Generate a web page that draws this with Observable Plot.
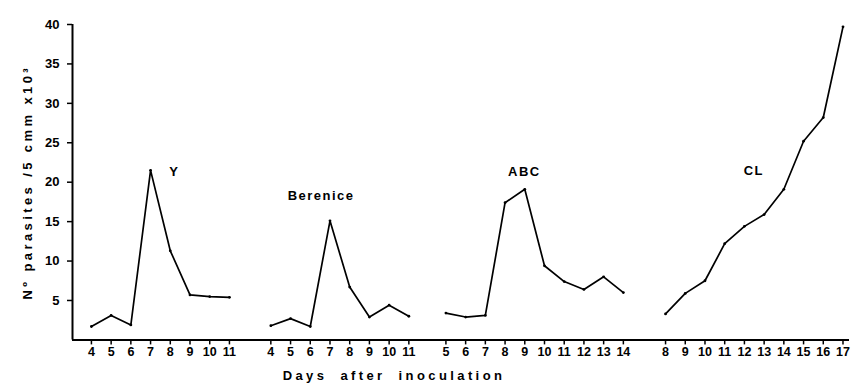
<!DOCTYPE html>
<html>
<head>
<meta charset="utf-8">
<script src="https://cdn.jsdelivr.net/npm/d3@7"></script>
<script src="https://cdn.jsdelivr.net/npm/@observablehq/plot@0.6"></script>
<style>
  html, body { margin: 0; padding: 0; background: #fff; }
  svg { display: block; }
</style>
</head>
<body>
<div id="chart"></div>
<script>
// ---- data ----
const strains = ["Y", "Berenice", "ABC", "CL"];

const yDays = [4, 5, 6, 7, 8, 9, 10, 11];
const yValues = [1.7, 3.1, 1.9, 21.5, 11.3, 5.7, 5.5, 5.4];

const berDays = [4, 5, 6, 7, 8, 9, 10, 11];
const berValues = [1.8, 2.7, 1.7, 15.1, 6.7, 2.9, 4.4, 3.0];

const abcDays = [5, 6, 7, 8, 9, 10, 11, 12, 13, 14];
const abcValues = [3.4, 2.9, 3.1, 17.4, 19.1, 9.4, 7.4, 6.4, 8.0, 6.0];

const clDays = [8, 9, 10, 11, 12, 13, 14, 15, 16, 17];
const clValues = [3.3, 5.9, 7.5, 12.2, 14.4, 15.9, 19.1, 25.2, 28.2, 39.7];

const yTicks = [5, 10, 15, 20, 25, 30, 35, 40];

const yLabel = "N\u00ba parasites /5 cmm x10\u00b3";
const xLabel = "Days after inoculation";

// ---- layout: horizontal offset of each panel on the shared day axis ----
const panelOffset = { "Y": -4, "Berenice": 5.10, "ABC": 12.98, "CL": 21.12 };
// label anchors, in each panel's day / value units
const labelDay = { "Y": 8.2, "Berenice": 6.55, "ABC": 8.98, "CL": 12.48 };
const labelValue = { "Y": 21.3, "Berenice": 18.3, "ABC": 21.3, "CL": 21.5 };

const series = { "Y": [yDays, yValues], "Berenice": [berDays, berValues], "ABC": [abcDays, abcValues], "CL": [clDays, clValues] };

const rows = [];
const ticks = [];
for (const s of strains) {
  const [days, vals] = series[s];
  days.forEach((d, i) => {
    rows.push({ strain: s, day: d, value: vals[i], u: panelOffset[s] + d });
    ticks.push({ u: panelOffset[s] + d, day: d });
  });
}
const tickLabel = new Map(ticks.map(t => [t.u, String(t.day)]));
const labels = strains.map(s => ({ strain: s, u: panelOffset[s] + labelDay[s], value: labelValue[s] }));

const xMin = -0.96, xMax = 38.45;
const font = "Liberation Sans, Arial, sans-serif";

const chart = Plot.plot({
  width: 858,
  height: 389,
  marginLeft: 72,
  marginRight: 9,
  marginTop: 24,
  marginBottom: 49.6,
  style: { fontFamily: font, fontWeight: "bold", fontSize: "13px", color: "#000", background: "#fff" },
  x: { domain: [xMin, xMax], axis: null },
  y: { domain: [0, 40], axis: null },
  marks: [
    Plot.ruleY([0], { stroke: "#000", strokeWidth: 2 }),
    Plot.ruleX([xMin], { y1: 0, y2: 40, stroke: "#000", strokeWidth: 2 }),
    Plot.axisY(yTicks, { tickSize: 5, tickPadding: 8, tickFormat: d => String(d), stroke: "#000", strokeWidth: 1.5, fontSize: 13, fontWeight: "bold", label: null }),
    Plot.axisX(ticks.map(t => t.u), { tickSize: 5, tickPadding: 2, tickFormat: u => tickLabel.get(u), stroke: "#000", strokeWidth: 1.5, fontSize: 12.5, fontWeight: "bold", label: null }),
    Plot.line(rows, { x: "u", y: "value", z: "strain", stroke: "#000", strokeWidth: 1.7 }),
    Plot.dot(rows, { x: "u", y: "value", r: 1.4, fill: "#000", stroke: "none" }),
    Plot.text(labels, { x: "u", y: "value", text: "strain", fontSize: 13, fontWeight: "bold", fill: "#000" }),
    Plot.text([yLabel], { frameAnchor: "left", textAnchor: "middle", lineAnchor: "middle", dx: -45, rotate: -90, fontSize: 13, fontWeight: "bold", fill: "#000" }),
    Plot.text([xLabel], { frameAnchor: "bottom", textAnchor: "middle", dx: -67, dy: 40, fontSize: 13, fontWeight: "bold", fill: "#000" })
  ]
});

d3.select(chart).selectAll("text").filter(function () {
  return this.textContent === yLabel;
}).style("letter-spacing", "3.4px");
d3.select(chart).selectAll("text").filter(function () {
  return this.textContent === xLabel;
}).style("letter-spacing", "3.4px").style("word-spacing", "6px");
d3.select(chart).selectAll("text").filter(function () {
  return strains.includes(this.textContent);
}).style("letter-spacing", "1.5px");

document.getElementById("chart").appendChild(chart);
</script>
</body>
</html>
